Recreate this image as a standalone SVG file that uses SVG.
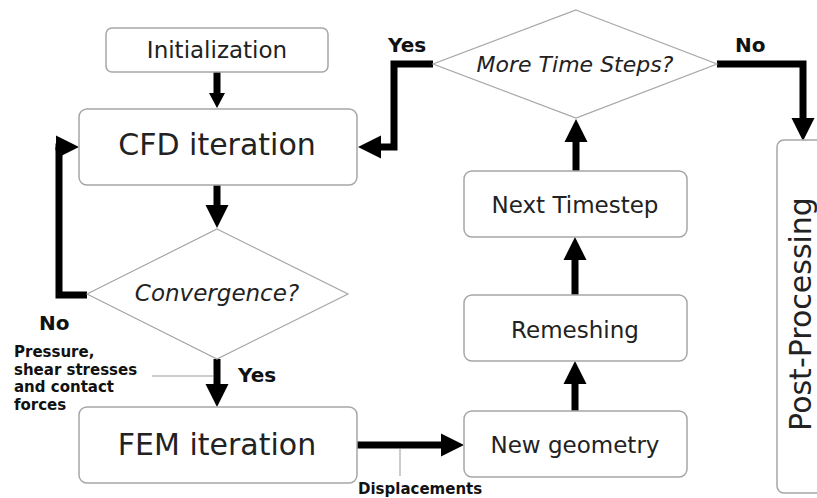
<svg xmlns="http://www.w3.org/2000/svg" width="817" height="498" viewBox="0 0 817 498">
<style>
.box{fill:#fff;stroke:#a6a6a6;stroke-width:1.5}
.dia{fill:#fff;stroke:#a6a6a6;stroke-width:1.2}
.t{font-family:"DejaVu Sans",Verdana,sans-serif;fill:#222;text-anchor:middle}
.it{font-style:italic}
.lb{font-family:"DejaVu Sans",Verdana,sans-serif;font-weight:bold;fill:#111}
.ln{fill:none;stroke:#000;stroke-width:7}
.thin{fill:none;stroke:#999;stroke-width:1}
</style>
<defs>
<marker id="ah" markerUnits="userSpaceOnUse" viewBox="0 -12 24 24" refX="0" refY="0" markerWidth="24" markerHeight="24" orient="auto"><path d="M0,-11.5 L23,0 L0,11.5 z" fill="#000"/></marker>
<marker id="ahs" markerUnits="userSpaceOnUse" viewBox="0 -9 16 18" refX="0" refY="0" markerWidth="16" markerHeight="18" orient="auto"><path d="M0,-8 L15,0 L0,8 z" fill="#000"/></marker>
</defs>
<rect width="817" height="498" fill="#fff"/>
<g id="connectors">
<path class="ln" d="M217,72 V93" marker-end="url(#ahs)"/>
<path class="ln" d="M217,185 V205" marker-end="url(#ah)"/>
<path class="ln" d="M217,359 V384" marker-end="url(#ah)"/>
<path class="ln" d="M87,295 H59 V147"/>
<path class="ln" d="M55.5,147 H56" marker-end="url(#ah)"/>
<path class="ln" d="M433,64 H394 V147 H381" marker-end="url(#ah)"/>
<path class="ln" d="M717,64 H803 V118" marker-end="url(#ah)"/>
<path class="ln" d="M357,445 H441" marker-end="url(#ah)"/>
<path class="ln" d="M575,411 V384" marker-end="url(#ah)"/>
<path class="ln" d="M575,295 V260" marker-end="url(#ah)"/>
<path class="ln" d="M576,171 V142" marker-end="url(#ah)"/>
<path class="thin" d="M152,376 H213"/>
<path class="thin" d="M400,449 V476"/>
<text class="lb" x="388" y="52" font-size="20">Yes</text>
<text class="lb" x="735" y="52" font-size="20">No</text>
<text class="lb" x="39" y="330" font-size="20">No</text>
<text class="lb" x="238" y="382" font-size="20">Yes</text>
<text class="lb" font-size="15"><tspan x="14" y="357">Pressure,</tspan><tspan x="14" y="374.5">shear stresses</tspan><tspan x="14" y="392">and contact</tspan><tspan x="14" y="409.5">forces</tspan></text>
<text class="lb" x="358" y="494" font-size="15">Displacements</text>
</g>
<g id="init"><rect class="box" x="106" y="28" width="222" height="44" rx="6"/><text class="t" x="217" y="58" font-size="23">Initialization</text></g>
<g id="cfd"><rect class="box" x="79" y="109" width="278" height="76" rx="8"/><text class="t" x="217" y="155" font-size="30">CFD iteration</text></g>
<g id="convergence"><polygon class="dia" points="217,229 348,294 217,359 87,294"/><text class="t it" x="217" y="301" font-size="23">Convergence?</text></g>
<g id="fem"><rect class="box" x="79" y="407" width="278" height="76" rx="8"/><text class="t" x="217" y="455" font-size="30">FEM iteration</text></g>
<g id="newgeom"><rect class="box" x="464" y="411" width="223" height="66" rx="8"/><text class="t" x="575" y="453" font-size="23">New geometry</text></g>
<g id="remesh"><rect class="box" x="464" y="295" width="223" height="66" rx="8"/><text class="t" x="575" y="338" font-size="23">Remeshing</text></g>
<g id="nexttime"><rect class="box" x="464" y="171" width="223" height="66" rx="8"/><text class="t" x="575" y="213" font-size="23">Next Timestep</text></g>
<g id="moretime"><polygon class="dia" points="576,10 717,64 576,118 433,64"/><text class="t it" x="575" y="72" font-size="22">More Time Steps?</text></g>
<g id="post"><rect class="box" x="777" y="140" width="60" height="353" rx="7"/><text class="t" transform="translate(811,314) rotate(-90)" x="0" y="0" font-size="30">Post-Processing</text></g>
</svg>
